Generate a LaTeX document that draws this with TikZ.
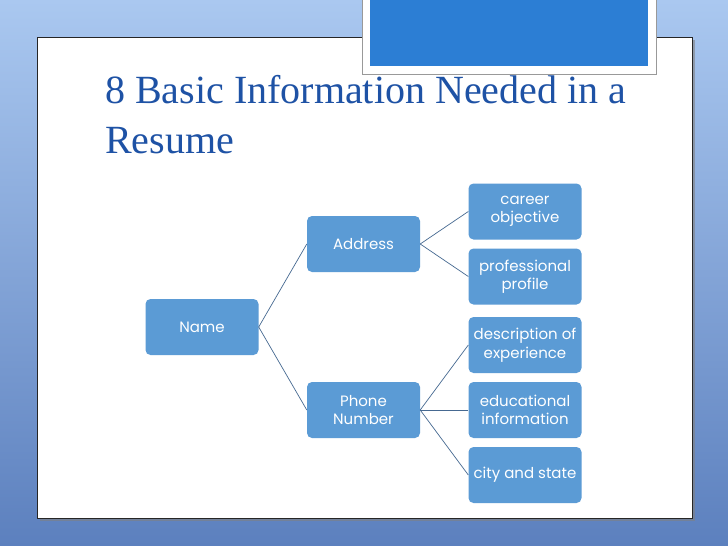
\documentclass[tikz,border=0pt]{standalone}
\usepackage{fontspec}
\setmainfont{Liberation Serif}
\newfontfamily\boxfont{Poppins}
\usepackage{tikz}
\usetikzlibrary{trees}
\definecolor{bgtop}{RGB}{170,200,240}
\definecolor{bgbot}{RGB}{92,128,190}
\definecolor{tabblue}{RGB}{44,126,212}
\definecolor{boxblue}{RGB}{91,155,213}
\definecolor{titleblue}{RGB}{30,82,165}
\definecolor{linkgray}{RGB}{70,105,145}
\tikzset {
	slide/.style={fill=white, draw=black!85, line width=0.8pt},
	title/.style={font=\fontsize{40}{50}\selectfont, text=titleblue, align=left, inner sep=0pt},
	infobox/.style={rectangle, rounded corners=5pt, fill=boxblue, text=white,
					minimum width=113pt, minimum height=56pt, inner sep=1pt, align=center,
					font=\boxfont\fontsize{15}{18.5}\selectfont},
	link/.style={draw=linkgray, line width=0.7pt},
	level 1/.style={sibling distance=166pt},
	level 2/.style={sibling distance=65pt}
}

\begin{document}
\begin{tikzpicture}[x=1pt, y=-1pt]
\useasboundingbox (0,0) rectangle (728,546);
% background and slide
\shade[top color=bgtop, bottom color=bgbot] (0,0) rectangle (728,546);
\fill[black!50, opacity=0.6] (40,40) rectangle (695,521);
\draw[slide] (37,37) rectangle (692,518);
\draw[fill=white, draw=black!40, line width=0.8pt] (362,-3) rectangle (656,74);
\fill[tabblue] (370,-3) rectangle (648,66);
\node[title, anchor=base west] (title) at (105,153) {8 Basic Information Needed in a\\Resume};
% tree
\begin{scope}[grow'=right, level distance=161.5pt,
	edge from parent/.style={link},
	edge from parent path={(\tikzparentnode.east) -- (\tikzchildnode.west)}]
\node [infobox] (name) at (202,327) {Name}
	child { node [infobox] (address) {Address}
		child { node [infobox] (career) {career\\objective} }
		child { node [infobox] (profile) {professional\\profile} }
	}
	child { node [infobox] (phone) {Phone\\Number}
		child { node [infobox] (experience) {description of\\experience} }
		child { node [infobox] (education) {educational\\information} }
		child { node [infobox] (city) {city and state} }
	};
\end{scope}
\end{tikzpicture}
\end{document}
